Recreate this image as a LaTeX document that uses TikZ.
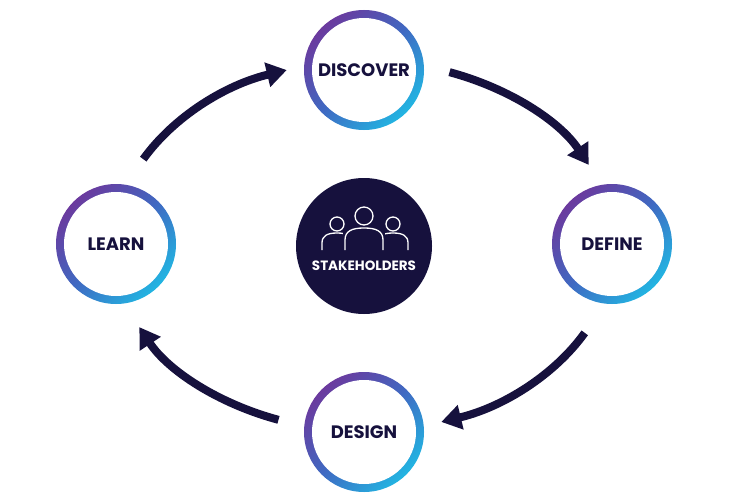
\documentclass[tikz,border=0pt]{standalone}
\usepackage{fontspec}
\setmainfont{Poppins}
\usetikzlibrary{arrows.meta}
\definecolor{navy}{HTML}{16113D}
\definecolor{cpur}{HTML}{6B3A9E}
\definecolor{cmid}{HTML}{3F69C2}
\definecolor{ccy}{HTML}{22B5E2}
\begin{document}
\begin{tikzpicture}[x=1pt,y=-1pt,
  ring/.style={circle,minimum size=120pt,inner sep=0pt,font=\fontsize{18}{20}\selectfont\bfseries,text=navy},
  arr/.style={navy,line width=8pt,-{Triangle[length=20pt,width=24pt]}}]
\useasboundingbox (0,0) rectangle (730,500);
\def\ringat#1#2{%
  \shade[top color=cpur,bottom color=ccy,middle color=cmid,shading angle=45] #1 circle (60);
  \fill[white] #1 circle (52);}
\ringat{(364,70)}{}
\ringat{(612,244)}{}
\ringat{(364,432)}{}
\ringat{(116,244)}{}
\node[ring] (disc) at (364,70) {DISCOVER};
\node[ring] (def) at (612,244) {DEFINE};
\node[ring] (des) at (364,432) {DESIGN};
\node[ring] (learn) at (116,244) {LEARN};
\node[circle,fill=navy,minimum size=136pt,inner sep=0pt] (st) at (364,246) {};
\node[text=white,font=\fontsize{13.5}{15}\selectfont\bfseries] (stl) at (364,266) {STAKEHOLDERS};
% people icon
\begin{scope}[white,line width=1.3pt]
  \draw (337,224) circle (7);
  \draw (393,224) circle (7);
  \draw (322,250) -- (322,243) .. controls (322,236) and (327,233) .. (337,233) .. controls (347,233) and (352,236) .. (352,243) -- (352,250);
  \draw (376,250) -- (376,243) .. controls (376,236) and (383,233) .. (393,233) .. controls (403,233) and (408,236) .. (408,243) -- (408,250);
  \fill[navy] (364,217) circle (11);
  \fill[navy] (343,229) rectangle (385,252);
  \draw (364,216) circle (9);
  \draw (345,250) -- (345,240) .. controls (345,231) and (352,228) .. (364,228) .. controls (376,228) and (383,231) .. (383,240) -- (383,250);
\end{scope}
% arrows on ellipse
\coordinate (c) at (364,246);
\draw[arr] ([shift={(152:250 and -185)}]c) arc[start angle=152,end angle=108,x radius=250,y radius=-185] coordinate (a1);
\draw[arr] ([shift={(70:250 and -185)}]c) arc[start angle=70,end angle=26,x radius=250,y radius=-185] coordinate (a2);
\draw[arr] ([shift={(-28:250 and -185)}]c) arc[start angle=-28,end angle=-72,x radius=250,y radius=-185] coordinate (a3);
\draw[arr] ([shift={(-110:250 and -185)}]c) arc[start angle=-110,end angle=-154,x radius=250,y radius=-185] coordinate (a4);
\end{tikzpicture}
\end{document}
